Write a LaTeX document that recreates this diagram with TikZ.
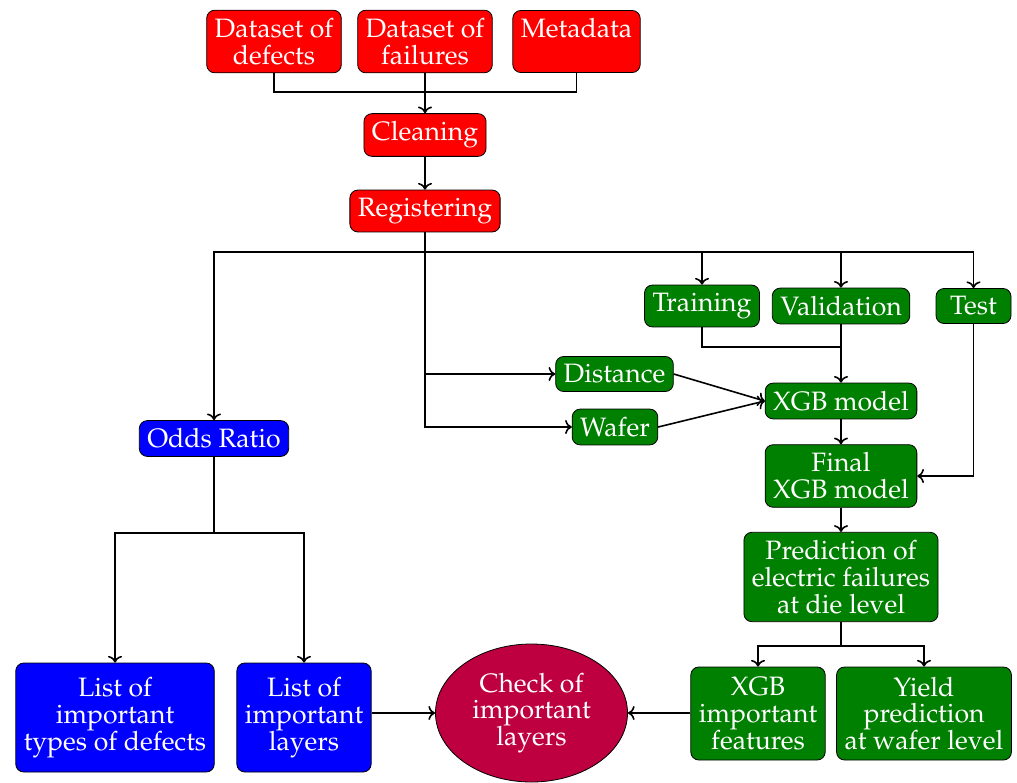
\documentclass[tikz,border=0pt]{standalone}
\usepackage[T1]{fontenc}
\usepackage{mathpazo}
\usepackage{tikz}
\usetikzlibrary{positioning, shapes.geometric, arrows.meta}
\definecolor{stepred}{RGB}{255,0,0}
\definecolor{stepgreen}{RGB}{0,128,0}
\definecolor{stepblue}{RGB}{0,0,255}
\definecolor{checkpurple}{RGB}{191,0,64}

\tikzset{
  basebox/.style={draw=black, thin, rounded corners=4pt, text=white, align=center,
                  inner sep=4pt, font=\fontsize{13.3}{13.4}\selectfont},
  redbox/.style={basebox, fill=stepred},
  greenbox/.style={basebox, fill=stepgreen},
  bluebox/.style={basebox, fill=stepblue, minimum height=54.5pt},
  checkellipse/.style={basebox, ellipse, fill=checkpurple, minimum width=96pt, minimum height=69pt}
}

\begin{document}
\begin{tikzpicture}[x=0.5pt, y=-0.5pt, thick]
  \useasboundingbox (0,0) rectangle (1017,782);
  % data preparation
  \node[redbox] (defects)  at (274,41.5) {Dataset of\\defects};
  \node[redbox] (failures) at (425,41.5) {Dataset of\\failures};
  \node[redbox] (metadata) at (576.5,41.5) {Metadata\\~};
  \node[redbox] (cleaning) at (425,135) {Cleaning};
  \node[redbox] (registering) at (425,211) {Registering};
  % model
  \node[greenbox] (training)   at (702,306) {Training};
  \node[greenbox] (validation) at (841,306) {Validation};
  \node[greenbox, minimum width=37.5pt] (test) at (973.5,306) {Test};
  \node[greenbox] (distance)   at (614.5,374) {Distance};
  \node[greenbox] (wafer)      at (615,427) {Wafer};
  \node[greenbox] (xgb)        at (841,401) {XGB model};
  \node[greenbox] (final)      at (841,476) {Final\\XGB model};
  \node[greenbox] (prediction) at (841,577) {Prediction of\\electric failures\\at die level};
  \node[greenbox, minimum height=46.5pt] (features) at (758,713.5) {XGB\\important\\features};
  \node[greenbox, minimum height=46.5pt] (yield)    at (924,713.5) {Yield\\prediction\\at wafer level};
  % odds ratio
  \node[bluebox, minimum height=0pt] (odds) at (214,438.5) {Odds Ratio};
  \node[bluebox] (types)  at (115,717.5) {List of\\important\\types of defects};
  \node[bluebox] (layers) at (304,717.5) {List of\\important\\layers};
  \node[checkellipse] (check) at (531.5,713) {Check of\\important\\layers};

  \coordinate (datajoin) at (425,92);
  \coordinate (split) at (425,252);
  \coordinate (trainjoin) at (841,347);
  \coordinate (predjoin) at (841,646);
  \coordinate (oddsjoin) at (214,533);

  \draw (defects.south) |- (datajoin);
  \draw (metadata.south) |- (datajoin);
  \draw[->] (failures.south) -- (cleaning.north);
  \draw[->] (cleaning) -- (registering);
  \draw (registering.south) -- (split);
  \draw[->] (split) -| (odds.north);
  \draw[->] (split) -| (training.north);
  \draw[->] (split) -| (validation.north);
  \draw[->] (split) -| (test.north);
  \draw[->] (registering.south) |- (distance.west);
  \draw[->] (registering.south) |- (wafer.west);
  \draw (training.south) |- (trainjoin);
  \draw[->] (validation.south) -- (xgb.north);
  \draw[->] (distance.east) -- (xgb.west);
  \draw[->] (wafer.east) -- (xgb.west);
  \draw[->] (xgb) -- (final);
  \draw[->] (test.south) |- (final.east);
  \draw[->] (final) -- (prediction);
  \draw (prediction.south) -- (predjoin);
  \draw[->] (predjoin) -| (features.north);
  \draw[->] (predjoin) -| (yield.north);
  \draw[->] (features.west |- check.east) -- (check.east);
  \draw (odds.south) -- (oddsjoin);
  \draw[->] (oddsjoin) -| (types.north);
  \draw[->] (oddsjoin) -| (layers.north);
  \draw[->] (layers.east |- check.west) -- (check.west);
\end{tikzpicture}
\end{document}
